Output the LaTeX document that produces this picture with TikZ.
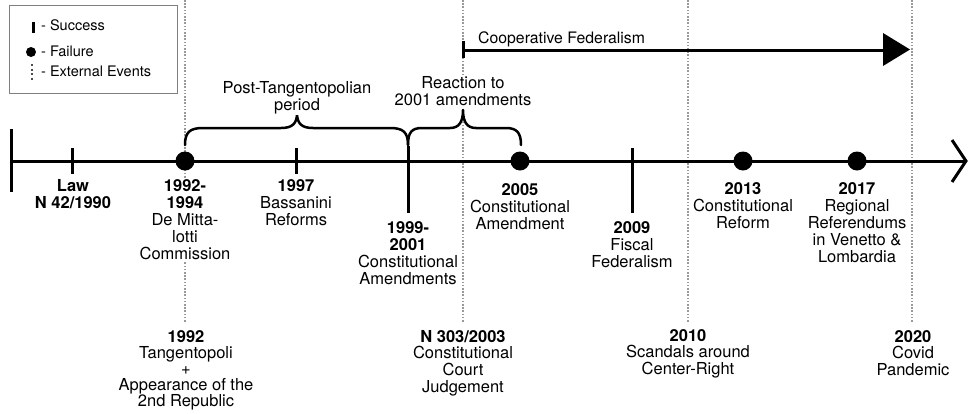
\documentclass[tikz,border=0pt]{standalone}
\usepackage{fontspec}
\setmainfont{TeX Gyre Heros}
\begin{document}
\begin{tikzpicture}[x=1pt,y=-1pt,
  axis/.style={line width=3pt},
  tickmark/.style={line width=3pt},
  fail/.style={circle,fill=black,inner sep=0pt,minimum size=19pt},
  ext/.style={draw=gray!80,line width=1.1pt,dash pattern=on 1.6pt off 1.6pt},
  lbl/.style={align=center,font=\fontsize{16.5}{17.2}\selectfont,inner sep=1pt,fill=white,anchor=north},
  legtext/.style={font=\fontsize{14.5}{16}\selectfont,inner sep=0pt,anchor=base west},
  bracepath/.style={line width=2.5pt,line cap=round,line join=round}]
\useasboundingbox (0,0) rectangle (968,413);

% external events (dotted)
\coordinate (e1t) at (185,0);   \coordinate (e1b) at (185,323);
\coordinate (e2t) at (463,0);   \coordinate (e2b) at (463,323);
\coordinate (e3t) at (688,0);   \coordinate (e3b) at (688,323);
\coordinate (e4t) at (912,0);   \coordinate (e4b) at (912,323);
\draw[ext] (e1t) -- (e1b);
\draw[ext] (e2t) -- (e2b);
\draw[ext] (e3t) -- (e3b);
\draw[ext] (e4t) -- (e4b);

% legend
\draw[gray,line width=1pt] (9,5) rectangle (177,93);
\coordinate (ls1) at (33,22); \coordinate (ls2) at (33,33);
\draw[line width=3pt] (ls1) -- (ls2);
\node[circle,fill=black,inner sep=0pt,minimum size=10pt] (lf) at (31,52) {};
\coordinate (le1) at (32,64); \coordinate (le2) at (32,80);
\draw[draw=gray!60!black,line width=1.3pt,dash pattern=on 2pt off 2.5pt] (le1) -- (le2);
\node[legtext] (t1) at (41,30) {- Success};
\node[legtext] (t2) at (41,56) {- Failure};
\node[legtext] (t3) at (41,76) {- External Events};

% main timeline
\coordinate (start) at (11,161);
\coordinate (end) at (966,161);
\coordinate (st1) at (11,129); \coordinate (st2) at (11,192);
\draw[axis] (start) -- (end);
\draw[tickmark] (st1) -- (st2);
\coordinate (ch1) at (952,140); \coordinate (ch2) at (952,182);
\draw[axis,line join=miter] (ch1) -- (end) -- (ch2);

% success ticks
\coordinate (law1) at (72,148);  \coordinate (law2) at (72,174);
\coordinate (y97a) at (296,148); \coordinate (y97b) at (296,174);
\coordinate (y99a) at (408,146); \coordinate (y99b) at (408,213);
\coordinate (y09a) at (632,148); \coordinate (y09b) at (632,213);
\draw[tickmark] (law1) -- (law2);
\draw[tickmark] (y97a) -- (y97b);
\draw[tickmark] (y99a) -- (y99b);
\draw[tickmark] (y09a) -- (y09b);

% failures
\node[fail] (f92) at (185,161) {};
\node[fail] (f05) at (520,161) {};
\node[fail] (f13) at (743,161) {};
\node[fail] (f17) at (857,161) {};

% braces
\coordinate (b1l) at (185,145);
\coordinate (b1c) at (297,113);
\coordinate (b1r) at (408,145);
\draw[bracepath] (b1l) .. controls (185,132) and (190,128) .. (203,128)
  -- (281,128) .. controls (292,128) and (297,124) .. (b1c)
  .. controls (297,124) and (302,128) .. (313,128)
  -- (390,128) .. controls (403,128) and (408,132) .. (b1r);
\coordinate (b2c) at (463,110);
\coordinate (b2r) at (521,145);
\draw[bracepath] (b1r) .. controls (408,132) and (412,128) .. (422,128)
  -- (450,128) .. controls (459,128) and (463,122) .. (b2c)
  .. controls (463,122) and (467,128) .. (476,128)
  -- (506,128) .. controls (517,128) and (521,133) .. (b2r);

\node[lbl] (post) at (297,80) {Post-Tangentopolian\\period};
\node[lbl] (react) at (463,75) {Reaction to\\2001 amendments};

% cooperative federalism
\coordinate (cf1) at (463,41); \coordinate (cf2) at (463,58);
\coordinate (cfs) at (463,50); \coordinate (cfe) at (885,50);
\draw[tickmark] (cf1) -- (cf2);
\draw[line width=3pt] (cfs) -- (cfe);
\coordinate (ah1) at (883,33); \coordinate (ah2) at (910,49.5); \coordinate (ah3) at (883,66);
\fill (ah1) -- (ah2) -- (ah3) -- cycle;
\node[font=\fontsize{15.8}{17}\selectfont,inner sep=0pt,anchor=base west] (coop) at (478,43) {Cooperative Federalism};

% labels above/below timeline
\node[lbl] (llaw) at (73,178) {\textbf{Law}\\\textbf{N 42/1990}};
\node[lbl] (l92) at (185,178) {\textbf{1992-}\\\textbf{1994}\\De Mitta-\\lotti\\Commission};
\node[lbl] (l97) at (296,178) {\textbf{1997}\\Bassanini\\Reforms};
\node[lbl] (l99) at (408,220) {\textbf{1999-}\\\textbf{2001}\\Constitutional\\Amendments};
\node[lbl] (l05) at (520,182) {\textbf{2005}\\Constitutional\\Amendment};
\node[lbl] (l09) at (632,220) {\textbf{2009}\\Fiscal\\Federalism};
\node[lbl] (l13) at (743,181) {\textbf{2013}\\Constitutional\\Reform};
\node[lbl] (l17) at (857,181) {\textbf{2017}\\Regional\\Referendums\\in Venetto \&\\Lombardia};

% external event labels
\node[lbl,font=\fontsize{16.5}{16.2}\selectfont] (x92) at (186,329) {\textbf{1992}\\Tangentopoli\\+\\Appearance of the\\2nd Republic};
\node[lbl,font=\fontsize{16.5}{16.7}\selectfont] (x03) at (463,329) {\textbf{N 303/2003}\\Constitutional\\Court\\Judgement};
\node[lbl,font=\fontsize{16.5}{16.7}\selectfont] (x10) at (688,328) {\textbf{2010}\\Scandals around\\Center-Right};
\node[lbl,font=\fontsize{16.5}{16.7}\selectfont] (x20) at (913,329) {\textbf{2020}\\Covid\\Pandemic};
\end{tikzpicture}
\end{document}
